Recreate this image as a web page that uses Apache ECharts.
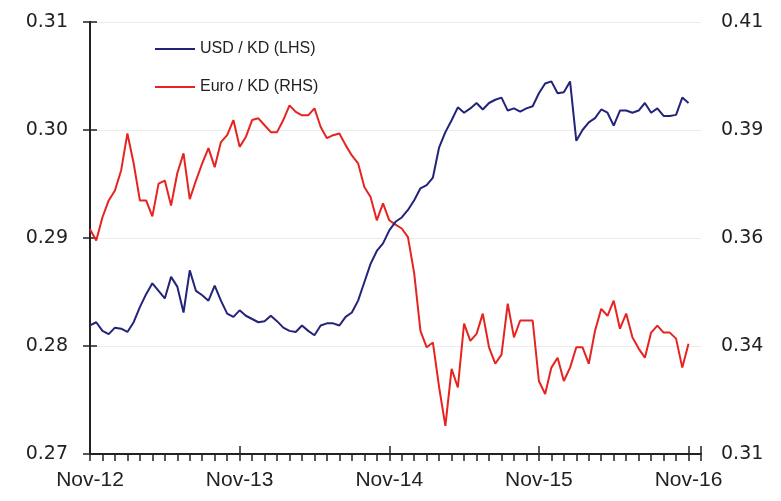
<!DOCTYPE html>
<html>
<head>
<meta charset="utf-8">
<script src="https://cdn.jsdelivr.net/npm/echarts@6/dist/echarts.min.js"></script>
<style>
  html, body { margin: 0; padding: 0; background: #fff; }
  #chart { width: 781px; height: 501px; }
</style>
</head>
<body>
<div id="chart"></div>
<script>
  // x 轴: 月份 (从 Nov-12 开始)，每半个月一个点
  const xTickLabels = ['Nov-12', 'Nov-13', 'Nov-14', 'Nov-15', 'Nov-16'];
  const stepMonths = 0.5;
  const lhsTicks = ['0.27', '0.28', '0.29', '0.30', '0.31'];
  const rhsTicks = ['0.31', '0.34', '0.36', '0.39', '0.41'];

  // USD / KD (左轴)
  const usdKd = [
    0.2819, 0.2822, 0.2814, 0.2811, 0.2817, 0.2816, 0.2813, 0.2822, 0.2836, 0.2848,
    0.2858, 0.2851, 0.2844, 0.2864, 0.2855, 0.2831, 0.2870, 0.2851, 0.2847, 0.2842,
    0.2856, 0.2842, 0.2830, 0.2827, 0.2833, 0.2828, 0.2825, 0.2822, 0.2823, 0.2828,
    0.2823, 0.2817, 0.2814, 0.2813, 0.2819, 0.2814, 0.2810, 0.2819, 0.2821, 0.2821,
    0.2819, 0.2827, 0.2831, 0.2842, 0.2859, 0.2876, 0.2888, 0.2895, 0.2907, 0.2915,
    0.2919, 0.2926, 0.2935, 0.2946, 0.2949, 0.2956, 0.2984, 0.2998, 0.3009, 0.3021,
    0.3016, 0.3020, 0.3025, 0.3019, 0.3025, 0.3028, 0.3030, 0.3018, 0.3020, 0.3017,
    0.3020, 0.3022, 0.3034, 0.3043, 0.3045, 0.3034, 0.3035, 0.3045, 0.2990, 0.3000,
    0.3007, 0.3011, 0.3019, 0.3016, 0.3004, 0.3018, 0.3018, 0.3016, 0.3018, 0.3025,
    0.3016, 0.3020, 0.3013, 0.3013, 0.3014, 0.3030, 0.3025
  ];

  // Euro / KD (右轴)
  const euroKd = [
    0.3620, 0.3594, 0.3648, 0.3687, 0.3710, 0.3757, 0.3842, 0.3773, 0.3687, 0.3687,
    0.3650, 0.3726, 0.3733, 0.3675, 0.3750, 0.3796, 0.3690, 0.3733, 0.3773, 0.3808,
    0.3764, 0.3822, 0.3838, 0.3873, 0.3811, 0.3834, 0.3873, 0.3877, 0.3861, 0.3845,
    0.3845, 0.3873, 0.3907, 0.3892, 0.3884, 0.3884, 0.3900, 0.3857, 0.3831, 0.3838,
    0.3842, 0.3815, 0.3791, 0.3773, 0.3718, 0.3695, 0.3641, 0.3680, 0.3641, 0.3631,
    0.3622, 0.3602, 0.3518, 0.3385, 0.3347, 0.3358, 0.3254, 0.3165, 0.3297, 0.3254,
    0.3402, 0.3362, 0.3378, 0.3425, 0.3347, 0.3309, 0.3330, 0.3448, 0.3370, 0.3409,
    0.3409, 0.3409, 0.3269, 0.3239, 0.3300, 0.3323, 0.3269, 0.3300, 0.3347, 0.3347,
    0.3309, 0.3385, 0.3436, 0.3420, 0.3455, 0.3390, 0.3425, 0.3370, 0.3344, 0.3323,
    0.3381, 0.3397, 0.3381, 0.3381, 0.3367, 0.3300, 0.3355
  ];

  const toPoints = (arr) => arr.map((v, i) => [i * stepMonths, v]);

  const labelFont = {
    color: '#222',
    fontFamily: 'DejaVu Sans',
    fontSize: 19,
  };

  const chart = echarts.init(document.getElementById('chart'));

  const option = {
    animation: false,
    backgroundColor: '#fff',
    grid: { left: 90, right: 80, top: 22, bottom: 47 },
    legend: {
      orient: 'vertical',
      left: 150,
      top: 36,
      itemWidth: 40,
      itemHeight: 14,
      itemGap: 22,
      icon: 'path://M0,6 L40,6 L40,8 L0,8 Z',
      textStyle: {
        color: '#222',
        fontFamily: 'Liberation Sans',
        fontSize: 16,
      },
      data: ['USD / KD (LHS)', 'Euro / KD (RHS)'],
    },
    xAxis: [
      {
        type: 'value',
        min: 0,
        max: 49,
        interval: 1,
        axisLine: { show: true, lineStyle: { color: '#222', width: 2 } },
        axisTick: { show: true, inside: false, length: 7, lineStyle: { color: '#222', width: 1.5 } },
        axisLabel: {
          color: '#222',
          fontFamily: 'Liberation Sans',
          fontSize: 21,
          margin: 16,
          formatter(v) {
            return v % 12 === 0 ? xTickLabels[v / 12] : '';
          },
        },
        splitLine: { show: false },
      },
      {
        // 年度主刻度 (向内)
        type: 'value',
        min: 0,
        max: 49,
        interval: 12,
        position: 'bottom',
        axisLine: { show: false },
        axisTick: { show: true, inside: true, length: 8, lineStyle: { color: '#222', width: 1.5 } },
        axisLabel: { show: false },
        splitLine: { show: false },
      },
    ],
    yAxis: [
      {
        type: 'value',
        min: 0.27,
        max: 0.31,
        interval: 0.01,
        axisLine: { show: true, lineStyle: { color: '#222', width: 2 } },
        axisTick: { show: true, length: 7, lineStyle: { color: '#222', width: 1.5 } },
        axisLabel: {
          ...labelFont,
          margin: 22,
          formatter(v) {
            return lhsTicks[Math.round((v - 0.27) / 0.01)];
          },
        },
        splitLine: { show: true, lineStyle: { color: '#ebebeb', width: 1 } },
      },
      {
        type: 'value',
        min: 0.31,
        max: 0.41,
        interval: 0.025,
        position: 'right',
        axisLine: { show: true, lineStyle: { color: '#222', width: 2 } },
        axisTick: { show: true, length: 7, lineStyle: { color: '#222', width: 1.5 } },
        axisLabel: {
          ...labelFont,
          margin: 20,
          formatter(v) {
            return rhsTicks[Math.round((v - 0.31) / 0.025)];
          },
        },
        splitLine: { show: false },
      },
    ],
    series: [
      {
        name: 'USD / KD (LHS)',
        type: 'line',
        xAxisIndex: 0,
        yAxisIndex: 0,
        symbol: 'none',
        data: toPoints(usdKd),
        lineStyle: { color: '#23237a', width: 2 },
        itemStyle: { color: '#23237a' },
        z: 3,
      },
      {
        name: 'Euro / KD (RHS)',
        type: 'line',
        xAxisIndex: 0,
        yAxisIndex: 1,
        symbol: 'none',
        data: toPoints(euroKd),
        lineStyle: { color: '#e52421', width: 2 },
        itemStyle: { color: '#e52421' },
        z: 2,
      },
    ],
  };

  chart.setOption(option);
</script>
</body>
</html>
